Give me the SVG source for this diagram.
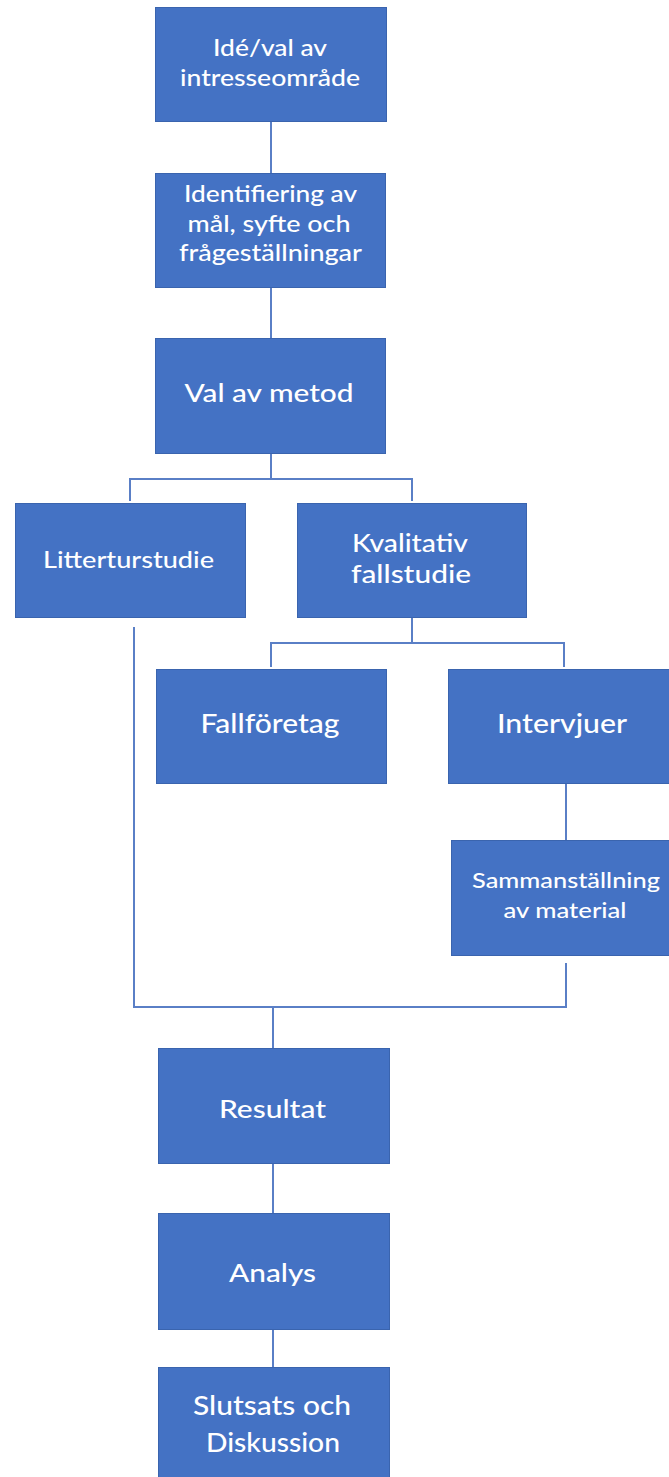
<svg xmlns="http://www.w3.org/2000/svg" width="669" height="1477" viewBox="0 0 669 1477">
<style>
.box{fill:#4472C4;stroke:#3A64AE;stroke-width:1}
.t{font-family:Lato,"Open Sans","Liberation Sans",sans-serif;fill:#FFFFFF;text-anchor:middle;font-weight:500}
.c{fill:none;stroke:#5A7FC6;stroke-width:2}
</style>
<rect width="669" height="1477" fill="#FFFFFF"/>
<g id="connectors">
<path class="c" d="M271 121V173"/>
<path class="c" d="M271 287V338"/>
<path class="c" d="M271 453V479M130 501V479H412V501"/>
<path class="c" d="M412 617V643M271 667V643H564V667"/>
<path class="c" d="M566 783V840"/>
<path class="c" d="M134 627V1007H566V963"/>
<path class="c" d="M273 1007V1048"/>
<path class="c" d="M273 1163V1213"/>
<path class="c" d="M273 1329V1367"/>
</g>
<g id="n1"><rect class="box" x="155.5" y="7.5" width="231" height="114"/>
<text class="t" font-size="23" x="270" y="56" textLength="114" lengthAdjust="spacingAndGlyphs">Idé/val av</text>
<text class="t" font-size="23" x="270" y="86" textLength="180" lengthAdjust="spacingAndGlyphs">intresseområde</text></g>
<g id="n2"><rect class="box" x="155.5" y="173.5" width="230" height="114"/>
<text class="t" font-size="23" x="270.5" y="202" textLength="173" lengthAdjust="spacingAndGlyphs">Identifiering av</text>
<text class="t" font-size="23" x="269" y="232" textLength="163" lengthAdjust="spacingAndGlyphs">mål, syfte och</text>
<text class="t" font-size="23" x="270.5" y="261" textLength="183" lengthAdjust="spacingAndGlyphs">frågeställningar</text></g>
<g id="n3"><rect class="box" x="155.5" y="338.5" width="230" height="115"/>
<text class="t" font-size="25" x="269" y="402" textLength="169" lengthAdjust="spacingAndGlyphs">Val av metod</text></g>
<g id="n4"><rect class="box" x="15.5" y="503.5" width="230" height="114"/>
<text class="t" font-size="23" x="128.5" y="568" textLength="171" lengthAdjust="spacingAndGlyphs">Litterturstudie</text></g>
<g id="n5"><rect class="box" x="297.5" y="503.5" width="229" height="114"/>
<text class="t" font-size="25" x="410" y="552" textLength="116" lengthAdjust="spacingAndGlyphs">Kvalitativ</text>
<text class="t" font-size="25" x="411" y="583" textLength="120" lengthAdjust="spacingAndGlyphs">fallstudie</text></g>
<g id="n6"><rect class="box" x="156.5" y="669.5" width="230" height="114"/>
<text class="t" font-size="26" x="270" y="733" textLength="139" lengthAdjust="spacingAndGlyphs">Fallföretag</text></g>
<g id="n7"><rect class="box" x="448.5" y="669.5" width="231" height="114"/>
<text class="t" font-size="26" x="562" y="733" textLength="130" lengthAdjust="spacingAndGlyphs">Intervjuer</text></g>
<g id="n8"><rect class="box" x="451.5" y="840.5" width="230" height="115"/>
<text class="t" font-size="22" x="566" y="888" textLength="188" lengthAdjust="spacingAndGlyphs">Sammanställning</text>
<text class="t" font-size="22" x="565" y="918" textLength="123" lengthAdjust="spacingAndGlyphs">av material</text></g>
<g id="n9"><rect class="box" x="158.5" y="1048.5" width="231" height="115"/>
<text class="t" font-size="25" x="272.5" y="1118" textLength="107" lengthAdjust="spacingAndGlyphs">Resultat</text></g>
<g id="n10"><rect class="box" x="158.5" y="1213.5" width="231" height="116"/>
<text class="t" font-size="25" x="272.5" y="1282" textLength="87" lengthAdjust="spacingAndGlyphs">Analys</text></g>
<g id="n11"><rect class="box" x="158.5" y="1367.5" width="231" height="120"/>
<text class="t" font-size="26" x="272" y="1415" textLength="158" lengthAdjust="spacingAndGlyphs">Slutsats och</text>
<text class="t" font-size="26" x="273" y="1452" textLength="134" lengthAdjust="spacingAndGlyphs">Diskussion</text></g>
</svg>
